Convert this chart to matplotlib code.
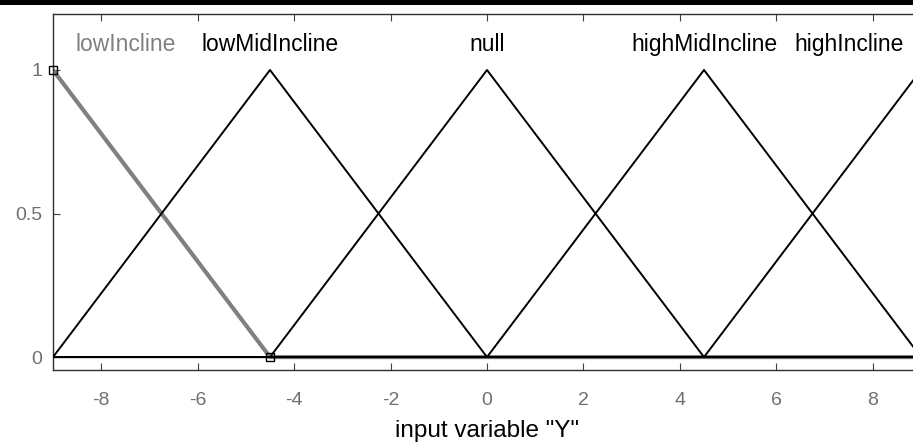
import matplotlib
matplotlib.use("Agg")
import numpy as np
from matplotlib import pyplot as plt
from matplotlib.patches import Rectangle

plt.rcParams['font.family'] = ['Liberation Sans', 'DejaVu Sans']
plt.rcParams['axes.unicode_minus'] = False

# membership functions of input variable "Y" (breakpoints)
x_range = [-9, 9]
mf_names = ["lowIncline", "lowMidIncline", "null", "highMidIncline", "highIncline"]
mf_x = [[-9, -4.5, 9],
        [-9, -4.5, 0, 9],
        [-9, -4.5, 0, 4.5, 9],
        [-9, 0, 4.5, 9],
        [-9, 4.5, 9]]
mf_y = [[1, 0, 0],
        [0, 1, 0, 0],
        [0, 0, 1, 0, 0],
        [0, 0, 1, 0],
        [0, 0, 1]]
label_x = [-7.5, -4.5, 0, 4.5, 7.5]
selected = 0

fig = plt.figure(figsize=(9.13, 4.43), dpi=100)
ax = fig.add_axes([53/913, 73/443, 868/913, 356/443])

for i in range(len(mf_names)):
    if i == selected:
        ax.plot(mf_x[i], mf_y[i], color='#808080', lw=3, zorder=2)
    else:
        ax.plot(mf_x[i], mf_y[i], color='black', lw=1.4, zorder=3)
    col = '#808080' if i == selected else 'black'
    ax.text(label_x[i], 1.09, mf_names[i], ha='center', va='center',
            fontsize=16.5, color=col)

# end markers of the selected function
ax.plot([mf_x[selected][0], mf_x[selected][1]], [mf_y[selected][0], mf_y[selected][1]],
        ls='none', marker='s', ms=6, mfc='none', mec='black', mew=1, zorder=4, clip_on=False)

ax.set_xlim(x_range)
ax.set_ylim(-0.045, 1.195)
ax.set_xticks(np.arange(-8, 9, 2))
ax.set_yticks([0, 0.5, 1])
ax.set_yticklabels(['0', '0.5', '1'])
ax.tick_params(direction='in', top=True, right=True, length=5, width=0.8,
               labelsize=14, labelcolor='#707070', color='#404040')
ax.tick_params(axis='x', pad=16)
ax.tick_params(axis='y', pad=8)
for s in ax.spines.values():
    s.set_color('#303030')
    s.set_linewidth(1)
ax.set_xlabel('input variable "Y"', fontsize=17.5, labelpad=8)

fig.add_artist(Rectangle((0, 1 - 5/443), 1, 5/443, transform=fig.transFigure,
                         color='black', lw=0))

fig.savefig('out.png', dpi=100)
